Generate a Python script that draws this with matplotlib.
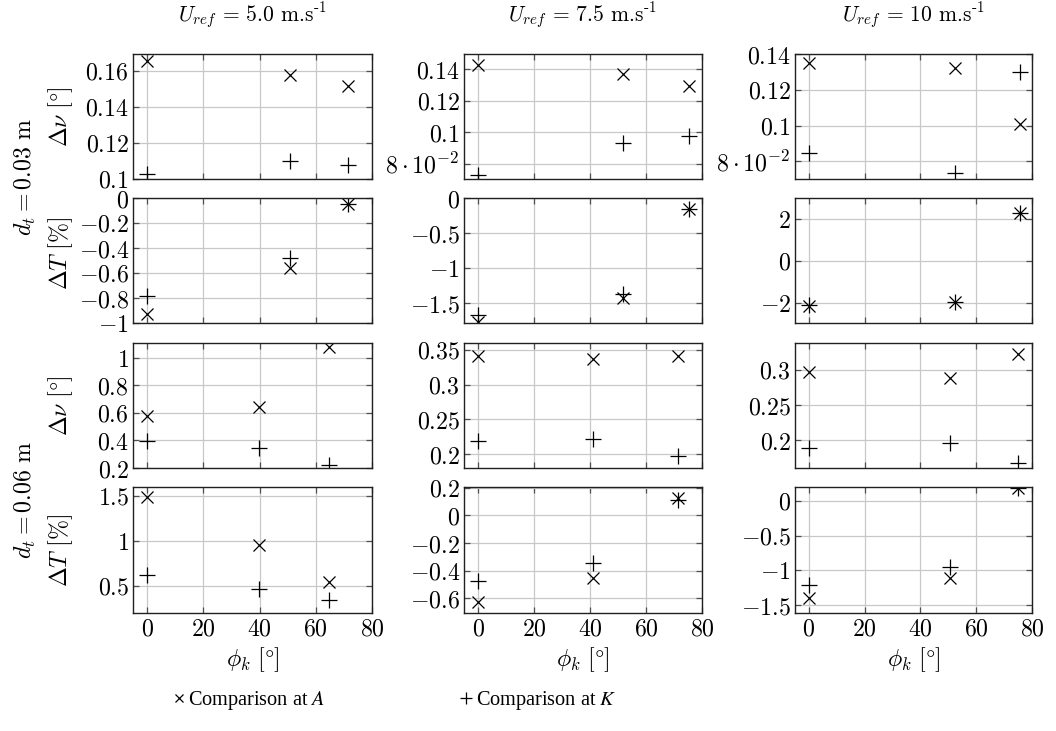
import matplotlib
matplotlib.use("Agg")
import matplotlib.pyplot as plt
from matplotlib.ticker import FixedLocator, FuncFormatter

plt.rcParams["mathtext.fontset"] = "cm"
plt.rcParams["font.family"] = ["DejaVu Serif"]
plt.rcParams["axes.unicode_minus"] = True

# ---- data -------------------------------------------------------------
u_refs = ["5.0", "7.5", "10"]
diameters = ["0.03", "0.06"]

# d_t = 0.03 m
phi_d03_u5 = [0, 50.7, 71.5]
nu_A_d03_u5 = [0.1656, 0.1578, 0.1517]
nu_K_d03_u5 = [0.1028, 0.1102, 0.1078]
T_A_d03_u5 = [-0.93, -0.56, -0.05]
T_K_d03_u5 = [-0.78, -0.48, -0.05]

phi_d03_u75 = [0, 51.9, 75.5]
nu_A_d03_u75 = [0.1427, 0.1370, 0.1294]
nu_K_d03_u75 = [0.0728, 0.0930, 0.0976]
T_A_d03_u75 = [-1.76, -1.43, -0.16]
T_K_d03_u75 = [-1.67, -1.37, -0.16]

phi_d03_u10 = [0, 52.3, 75.8]
nu_A_d03_u10 = [0.1348, 0.1320, 0.1008]
nu_K_d03_u10 = [0.0848, 0.0735, 0.1301]
T_A_d03_u10 = [-2.16, -1.95, 2.29]
T_K_d03_u10 = [-2.12, -1.95, 2.29]

# d_t = 0.06 m
phi_d06_u5 = [0, 39.8, 64.8]
nu_A_d06_u5 = [0.580, 0.642, 1.078]
nu_K_d06_u5 = [0.399, 0.345, 0.222]
T_A_d06_u5 = [1.489, 0.952, 0.548]
T_K_d06_u5 = [0.622, 0.467, 0.345]

phi_d06_u75 = [0, 41.0, 71.5]
nu_A_d06_u75 = [0.3414, 0.3366, 0.3414]
nu_K_d06_u75 = [0.219, 0.2218, 0.197]
T_A_d06_u75 = [-0.629, -0.455, 0.125]
T_K_d06_u75 = [-0.472, -0.347, 0.110]

phi_d06_u10 = [0, 50.6, 74.8]
nu_A_d06_u10 = [0.2976, 0.2890, 0.3222]
nu_K_d06_u10 = [0.1896, 0.1957, 0.1675]
T_A_d06_u10 = [-1.40, -1.106, 0.19]
T_K_d06_u10 = [-1.21, -0.95, 0.19]

x_ticks = [0, 20, 40, 60, 80]

# ---- panel table: (phi, series A, series K, ylim, yticks) per row/col ----
panels = [
    [  # Delta nu, d_t = 0.03
        (phi_d03_u5, nu_A_d03_u5, nu_K_d03_u5, (0.1, 0.1694), [0.1, 0.12, 0.14, 0.16]),
        (phi_d03_u75, nu_A_d03_u75, nu_K_d03_u75, (0.0703, 0.1497), [0.08, 0.1, 0.12, 0.14]),
        (phi_d03_u10, nu_A_d03_u10, nu_K_d03_u10, (0.0701, 0.140), [0.08, 0.1, 0.12, 0.14]),
    ],
    [  # Delta T, d_t = 0.03
        (phi_d03_u5, T_A_d03_u5, T_K_d03_u5, (-1.0, 0.0), [-1, -0.8, -0.6, -0.4, -0.2, 0]),
        (phi_d03_u75, T_A_d03_u75, T_K_d03_u75, (-1.78, 0.0), [-1.5, -1, -0.5, 0]),
        (phi_d03_u10, T_A_d03_u10, T_K_d03_u10, (-2.98, 3.02), [-2, 0, 2]),
    ],
    [  # Delta nu, d_t = 0.06
        (phi_d06_u5, nu_A_d06_u5, nu_K_d06_u5, (0.2, 1.107), [0.2, 0.4, 0.6, 0.8, 1]),
        (phi_d06_u75, nu_A_d06_u75, nu_K_d06_u75, (0.18, 0.36), [0.2, 0.25, 0.3, 0.35]),
        (phi_d06_u10, nu_A_d06_u10, nu_K_d06_u10, (0.161, 0.338), [0.2, 0.25, 0.3]),
    ],
    [  # Delta T, d_t = 0.06
        (phi_d06_u5, T_A_d06_u5, T_K_d06_u5, (0.2, 1.596), [0.5, 1, 1.5]),
        (phi_d06_u75, T_A_d06_u75, T_K_d06_u75, (-0.706, 0.205), [-0.6, -0.4, -0.2, 0, 0.2]),
        (phi_d06_u10, T_A_d06_u10, T_K_d06_u10, (-1.615, 0.2), [-1.5, -1, -0.5, 0]),
    ],
]


def pgf_label(v, pos=None):
    if abs(v - 0.08) < 1e-9:
        return r"$8\cdot10^{-2}$"
    s = f"{v:.2f}".rstrip("0").rstrip(".")
    if s in ("-0", ""):
        s = "0"
    return f"${s}$"


W, H = 1056, 731
fig = plt.figure(figsize=(W / 100, H / 100), dpi=100)

col_px = [(133, 372), (464, 702), (795, 1032)]
row_px = [(54, 179), (198, 323), (343, 468), (487, 613)]
ylabel_y = [117, 253, 406, 550]

TICK_FS = 17.2
handles = None
for r, (y0, y1) in enumerate(row_px):
    for c, (x0, x1) in enumerate(col_px):
        ax = fig.add_axes([x0 / W, 1 - y1 / H, (x1 - x0) / W, (y1 - y0) / H])
        phi, sa, sk, ylim, yt = panels[r][c]
        la, = ax.plot(phi, sa, ls="none", marker="x", ms=8.5, mew=0.9, color="black")
        lk, = ax.plot(phi, sk, ls="none", marker="+", ms=11, mew=0.9, color="black")
        handles = (la, lk)
        ax.set_xlim(-5, 80)
        ax.set_ylim(*ylim)
        ax.xaxis.set_major_locator(FixedLocator(x_ticks))
        ax.yaxis.set_major_locator(FixedLocator(yt))
        ax.yaxis.set_major_formatter(FuncFormatter(pgf_label))
        ax.xaxis.set_major_formatter(FuncFormatter(pgf_label))
        if r < 3:
            ax.tick_params(axis="x", labelbottom=False)
        ax.grid(True, color="#c8c8c8", lw=0.9)
        ax.set_axisbelow(True)
        ax.tick_params(direction="in", top=True, right=True, length=4,
                       width=0.9, color="#505050", labelsize=TICK_FS, pad=3)
        for sp in ax.spines.values():
            sp.set_linewidth(1.0)
            sp.set_color("#202020")
        if c == 0:
            lab = r"$\Delta\nu\ [\degree]$" if r % 2 == 0 else r"$\Delta T\ [\%]$"
            fig.text(61 / W, 1 - ylabel_y[r] / H, lab, rotation=90,
                     ha="center", va="center", fontsize=TICK_FS)
        if r == 3:
            fig.text((x0 + x1) / 2 / W, 1 - 660 / H, r"$\phi_k\ [\degree]$",
                     ha="center", va="center", fontsize=TICK_FS)
        if r == 0:
            fig.text((x0 + x1) / 2 / W, 1 - 16 / H,
                     r"$U_{ref}\,=\,%s$ m.s$^{\mathrm{\text{-}1}}$" % u_refs[c],
                     ha="center", va="center", fontsize=15.5, family="cmr10")

# row group labels
for d, yc in zip(diameters, (177, 500)):
    fig.text(25 / W, 1 - yc / H, r"$d_t = %s\ \mathrm{m}$" % d, rotation=90,
             ha="center", va="center", fontsize=TICK_FS)

leg = fig.legend(handles, [r"Comparison at $A$", r"Comparison at $K$"],
                 loc="center", bbox_to_anchor=(395 / W, 1 - 701 / H), ncol=2,
                 frameon=False, handlelength=0.5, handletextpad=0.2,
                 columnspacing=6.7, markerscale=0.75,
                 prop={"family": "Liberation Serif", "size": 14.6})
for t in leg.get_texts():
    t.set_math_fontfamily("stix")

fig.savefig("out.png", dpi=100)
